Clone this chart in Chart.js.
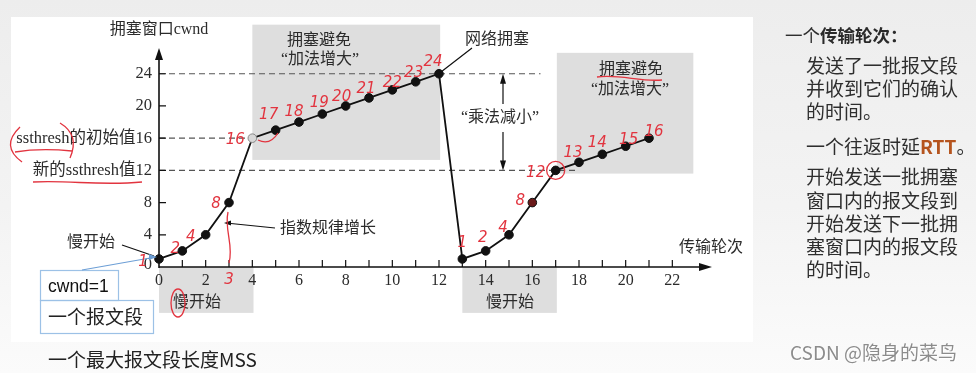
<!DOCTYPE html>
<html>
<head>
<meta charset="utf-8">
<script src="https://cdn.jsdelivr.net/npm/chart.js@4"></script>
<style>
  html, body { margin: 0; padding: 0; width: 976px; height: 373px; overflow: hidden; }
  body { position: relative; background: linear-gradient(to bottom, #ededed 0%, #f3f3f3 55%, #fbfbfb 100%); font-family: 'Noto Sans CJK SC', sans-serif; }
  #panel { position: absolute; left: 11px; top: 17px; width: 742px; height: 325px; background: #fff; }
  #chart { position: absolute; left: 0; top: 0; }
  .side { position: absolute; left: 806px; font-size: 19px; line-height: 23px; color: #2e2e2e; white-space: nowrap; }
  .side b { color: #b5541e; font-weight: bold; }
  #head { left: 785px; font-size: 17.5px; }
  #head b { color: #2a2a2a; }
  #mark { position: absolute; left: 790px; top: 339px; font-size: 19px; line-height: 26px; color: #8c8c8c; white-space: nowrap; text-shadow: 1px 1px 0 #fff; }
</style>
</head>
<body>
<div id="panel"></div>
<canvas id="chart" width="976" height="373"></canvas>

<div class="side" id="head" style="top:23px">一个<b>传输轮次：</b></div>
<div class="side" style="top:53px">发送了一批报文段</div>
<div class="side" style="top:76px">并收到它们的确认</div>
<div class="side" style="top:99px">的时间。</div>
<div class="side" style="top:134px">一个往返时延<b>RTT</b>。</div>
<div class="side" style="top:164px">开始发送一批拥塞</div>
<div class="side" style="top:188px">窗口内的报文段到</div>
<div class="side" style="top:211px">开始发送下一批拥</div>
<div class="side" style="top:234px">塞窗口内的报文段</div>
<div class="side" style="top:257px">的时间。</div>
<div id="mark">CSDN @隐身的菜鸟</div>

<script>
// 传输轮次 / cwnd
const rounds = [0, 1, 2, 3, 4, 5, 6, 7, 8, 9, 10, 11, 12, 13, 14, 15, 16, 17, 18, 19, 20, 21];
const cwnd   = [1, 2, 4, 8, 16, 17, 18, 19, 20, 21, 22, 23, 24, 1, 2, 4, 8, 12, 13, 14, 15, 16];

const xTickValues = [0, 2, 4, 6, 8, 10, 12, 14, 16, 18, 20, 22];
const yTickValues = [0, 4, 8, 12, 16, 20, 24];
const yTickLabels = ['0', '4', '8', '新的ssthresh值12', 'ssthresh的初始值16', '20', '24'];

const serif = "'Liberation Serif', 'Noto Sans CJK SC', serif";
const ink = '#2b2b2b';
const red = '#e2343f';

function arrowHead(ctx, x, y, dir, len, half) {
  // dir: 'up' | 'down' | 'right' | 'left'
  ctx.beginPath();
  if (dir === 'up') { ctx.moveTo(x, y); ctx.lineTo(x - half, y + len); ctx.lineTo(x + half, y + len); }
  if (dir === 'down') { ctx.moveTo(x, y); ctx.lineTo(x - half, y - len); ctx.lineTo(x + half, y - len); }
  if (dir === 'right') { ctx.moveTo(x, y); ctx.lineTo(x - len, y - half); ctx.lineTo(x - len, y + half); }
  if (dir === 'left') { ctx.moveTo(x, y); ctx.lineTo(x + len, y - half); ctx.lineTo(x + len, y + half); }
  ctx.closePath();
  ctx.fill();
}

function text(ctx, s, x, y, font, align, color) {
  ctx.font = font;
  ctx.textAlign = align || 'center';
  ctx.textBaseline = 'middle';
  ctx.fillStyle = color || ink;
  ctx.fillText(s, x, y);
}

const diagram = {
  id: 'diagram',
  beforeDatasetsDraw(chart) {
    const ctx = chart.ctx;
    const xs = chart.scales.x, ys = chart.scales.y;
    const X = v => xs.getPixelForValue(v);
    const Y = v => ys.getPixelForValue(v);
    const area = chart.chartArea;
    ctx.save();

    // 灰色区域
    ctx.fillStyle = '#dedede';
    [[4, 12.05, 30.1, 13.3], [17.05, 22.9, 26.6, 11.6], [0, 4.05, 0, -5.7], [13, 17.05, 0, -5.7]].forEach(b => {
      ctx.fillRect(X(b[0]), Y(b[2]), X(b[1]) - X(b[0]), Y(b[3]) - Y(b[2]));
    });

    // 虚线
    ctx.strokeStyle = '#555';
    ctx.lineWidth = 1.2;
    ctx.setLineDash([6, 4]);
    [[24, 16.35], [16, 4], [12, 17.95]].forEach(d => {
      ctx.beginPath();
      ctx.moveTo(X(0), Y(d[0]));
      ctx.lineTo(X(d[1]), Y(d[0]));
      ctx.stroke();
    });
    ctx.setLineDash([]);

    // 坐标轴
    ctx.strokeStyle = '#111';
    ctx.fillStyle = '#111';
    ctx.lineWidth = 1.6;
    ctx.beginPath();
    ctx.moveTo(X(0), Y(0));
    ctx.lineTo(area.right - 8, Y(0));
    ctx.moveTo(X(0), Y(0) + 1);
    ctx.lineTo(X(0), area.top + 8);
    ctx.stroke();
    arrowHead(ctx, area.right, Y(0), 'right', 13, 4);
    arrowHead(ctx, X(0), area.top, 'up', 12, 4);

    ctx.lineWidth = 1.2;
    ctx.beginPath();
    for (let i = 1; i <= 22; i++) {
      ctx.moveTo(X(i), Y(0));
      ctx.lineTo(X(i), Y(0) - 7);
    }
    yTickValues.slice(1).forEach(v => {
      ctx.moveTo(X(0), Y(v));
      ctx.lineTo(X(0) + 7, Y(v));
    });
    ctx.stroke();

    xTickValues.forEach(v => text(ctx, String(v), X(v), Y(0) + 14, '16px ' + serif));
    yTickValues.forEach((v, i) => text(ctx, yTickLabels[i], X(0) - 7, Y(v) - (v === 0 ? 2 : 0), '16.5px ' + serif, 'right'));
    ctx.restore();
  },
  afterDatasetsDraw(chart) {
    const ctx = chart.ctx;
    const xs = chart.scales.x, ys = chart.scales.y;
    const X = v => xs.getPixelForValue(v);
    const Y = v => ys.getPixelForValue(v);
    const f16 = '16px ' + serif;
    ctx.save();

    text(ctx, '拥塞窗口cwnd', 159, 30, f16);
    text(ctx, '传输轮次', 711, 248, f16);
    text(ctx, '拥塞避免', 319, 41, f16);
    text(ctx, '“加法增大”', 320, 60, f16);
    text(ctx, '拥塞避免', 631, 70, f16);
    text(ctx, '“加法增大”', 630, 90, f16);
    text(ctx, '慢开始', 197, 303, f16);
    text(ctx, '慢开始', 510, 303, f16);
    text(ctx, '网络拥塞', 497, 40, f16);
    text(ctx, '“乘法减小”', 500, 118, f16);
    text(ctx, '指数规律增长', 328, 229, f16);
    text(ctx, '慢开始', 91, 243, f16);

    // 引线
    ctx.strokeStyle = '#111';
    ctx.fillStyle = '#111';
    ctx.lineWidth = 1.2;
    ctx.beginPath();
    ctx.moveTo(X(12) + 1, Y(24) - 1); ctx.lineTo(472, 48);
    ctx.moveTo(122, 245); ctx.lineTo(154, 256);
    ctx.moveTo(226, 223); ctx.lineTo(275, 228);
    ctx.moveTo(503, Y(24) + 8); ctx.lineTo(503, 104);
    ctx.moveTo(503, 132); ctx.lineTo(503, Y(12) - 8);
    ctx.stroke();
    arrowHead(ctx, 503, Y(24), 'up', 10, 3);
    arrowHead(ctx, 503, Y(12), 'down', 10, 3);
    arrowHead(ctx, 224, 223, 'left', 7, 2.5);

    // cwnd=1 / 一个报文段
    ctx.strokeStyle = '#9cc1e6';
    ctx.lineWidth = 1.2;
    ctx.strokeRect(40.5, 270.5, 78, 30);
    ctx.strokeRect(40.5, 300.5, 113, 33);
    ctx.strokeStyle = '#6d9fd6';
    ctx.fillStyle = '#6d9fd6';
    ctx.beginPath();
    ctx.moveTo(82, 270); ctx.lineTo(150, 258);
    ctx.stroke();
    arrowHead(ctx, 157, 257, 'right', 8, 3);
    text(ctx, 'cwnd=1', 48, 287, "17.5px 'Liberation Sans', sans-serif", 'left', '#111');
    text(ctx, '一个报文段', 48, 317, "19px 'Noto Sans CJK SC', sans-serif", 'left', '#222');
    text(ctx, '一个最大报文段长度MSS', 48, 360, "19px 'Noto Sans CJK SC', sans-serif", 'left', '#222');

    // 红色手写标注
    const offs = [[-16, 3], [-7, -2], [-15, 2], [-13, 2], [-17, 2], [-7, -15], [-5, -10], [-3, -11], [-4, -9], [-3, -9], [0, -7], [-2, -9], [-6, -12],
                  [0, -16], [-3, -13], [-6, -7], [-12, -1], [-20, 3], [-6, -9], [-5, -11], [3, -6], [5, -6]];
    const hand = "italic 15px 'DejaVu Sans', sans-serif";
    cwnd.forEach((v, i) => text(ctx, String(v), X(rounds[i]) + offs[i][0], Y(v) + offs[i][1], hand, 'center', red));
    text(ctx, '3', X(3), Y(0) + 13, hand, 'center', red);

    ctx.strokeStyle = red;
    ctx.lineWidth = 1.3;
    ctx.beginPath();
    ctx.arc(X(17), Y(12), 9, 0, Math.PI * 2);
    ctx.stroke();
    ctx.beginPath();
    ctx.ellipse(178, 303, 7, 14, 0, 0, Math.PI * 2);
    ctx.stroke();
    ctx.beginPath();
    ctx.moveTo(20, 127); ctx.quadraticCurveTo(0, 146, 22, 162);
    ctx.moveTo(60, 123); ctx.quadraticCurveTo(80, 135, 70, 158);
    ctx.moveTo(15, 152); ctx.quadraticCurveTo(40, 148, 72, 151);
    ctx.moveTo(33, 182); ctx.bezierCurveTo(70, 180, 100, 186, 142, 182);
    ctx.moveTo(228, 212); ctx.bezierCurveTo(224, 230, 234, 245, 229, 263);
    ctx.moveTo(597, 77); ctx.bezierCurveTo(620, 74, 640, 82, 662, 80);
    ctx.moveTo(258, 140); ctx.quadraticCurveTo(270, 146, 278, 133);
    ctx.stroke();
    ctx.restore();
  }
};

const puntos = rounds.map((r, i) => ({ x: r, y: cwnd[i] }));
const relleno = cwnd.map((v, i) => i === 4 ? '#d8d8d8' : (i === 16 ? '#6b1a1a' : '#111'));
const borde = cwnd.map((v, i) => i === 4 ? '#888' : '#111');

new Chart(document.getElementById('chart').getContext('2d'), {
  type: 'line',
  data: {
    datasets: [{
      data: puntos,
      borderColor: '#111',
      borderWidth: 1.8,
      pointRadius: 4.3,
      pointBackgroundColor: relleno,
      pointBorderColor: borde,
      pointBorderWidth: 1,
      tension: 0,
      clip: false
    }]
  },
  options: {
    responsive: false,
    animation: false,
    devicePixelRatio: 1,
    layout: { padding: { left: 159, right: 264, top: 48, bottom: 106 } },
    scales: {
      x: { type: 'linear', min: 0, max: 23.7, display: false },
      y: { type: 'linear', min: 0, max: 27.2, display: false }
    },
    plugins: { legend: { display: false }, tooltip: { enabled: false } }
  },
  plugins: [diagram]
});
</script>
</body>
</html>
